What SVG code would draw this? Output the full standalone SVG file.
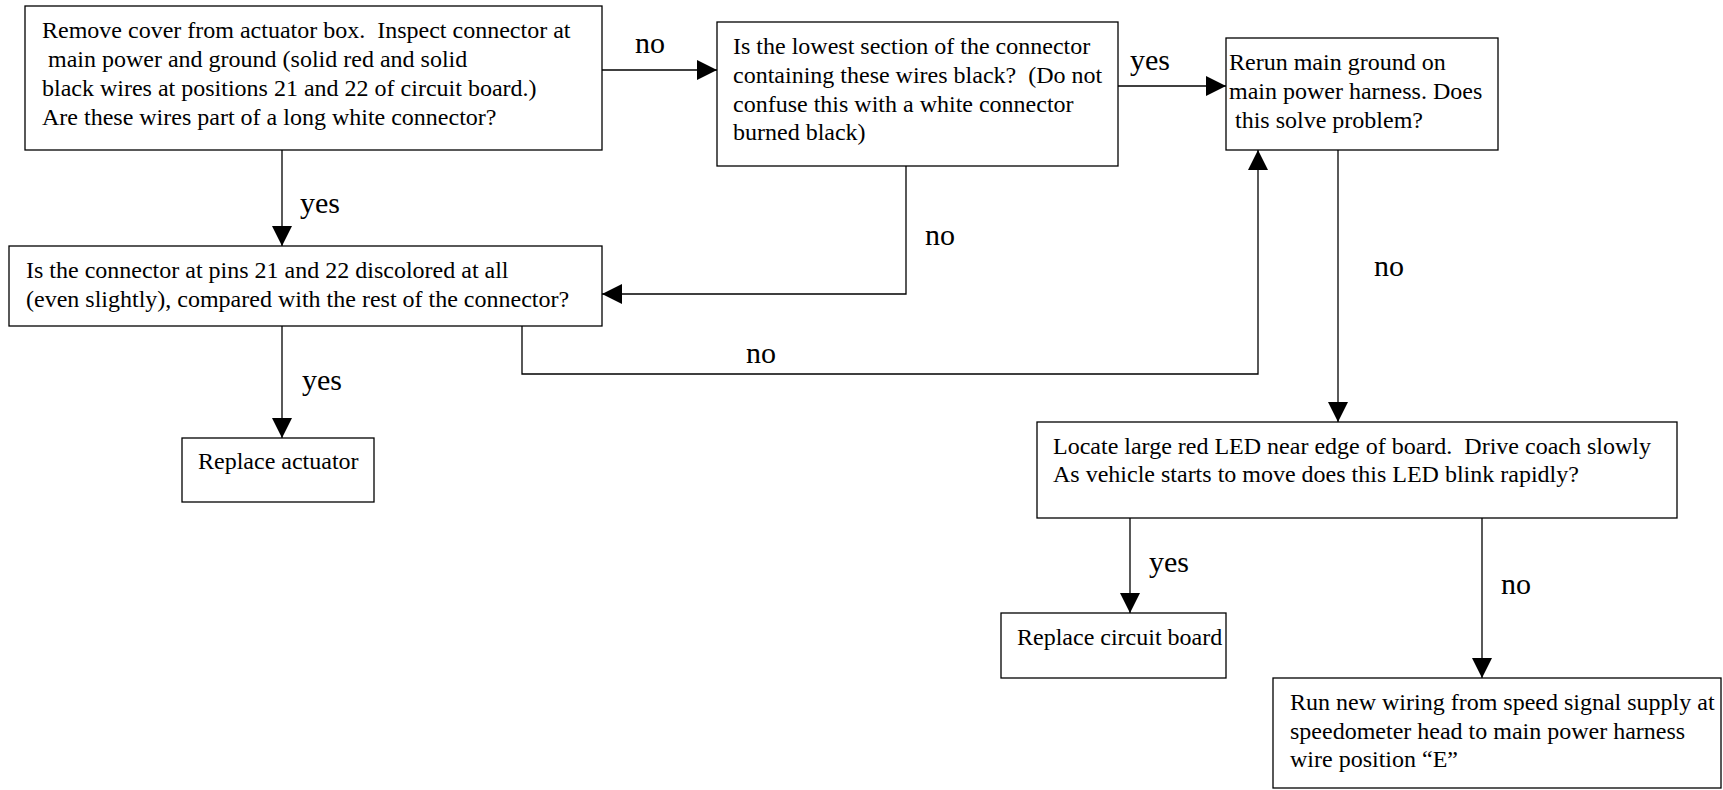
<svg xmlns="http://www.w3.org/2000/svg" width="1723" height="790" viewBox="0 0 1723 790">
<defs>
<marker id="ah" markerWidth="20" markerHeight="20" refX="20" refY="10" orient="auto" markerUnits="userSpaceOnUse">
<path d="M0,0 L20,10 L0,20 Z" fill="#000"/>
</marker>
<style>
.box{fill:#fff;stroke:#000;stroke-width:1.3}
.t{font-family:"Liberation Serif","Times New Roman",serif;font-size:24px;fill:#000;white-space:pre}
.lbl{font-family:"Liberation Serif","Times New Roman",serif;font-size:30px;fill:#000}
.c{fill:none;stroke:#000;stroke-width:1.3}
</style>
</defs>
<g id="connectors">
<path class="c" d="M602,70 L717,70" marker-end="url(#ah)"/>
<text class="lbl" x="635" y="53">no</text>
<path class="c" d="M1112,86 L1226,86" marker-end="url(#ah)"/>
<text class="lbl" x="1130" y="70">yes</text>
<path class="c" d="M282,150 L282,246" marker-end="url(#ah)"/>
<text class="lbl" x="300" y="213">yes</text>
<path class="c" d="M906,166 L906,294 L602,294" marker-end="url(#ah)"/>
<text class="lbl" x="925" y="245">no</text>
<path class="c" d="M522,326 L522,374 L1258,374 L1258,150" marker-end="url(#ah)"/>
<text class="lbl" x="746" y="363">no</text>
<path class="c" d="M282,326 L282,438" marker-end="url(#ah)"/>
<text class="lbl" x="302" y="390">yes</text>
<path class="c" d="M1338,150 L1338,422" marker-end="url(#ah)"/>
<text class="lbl" x="1374" y="276">no</text>
<path class="c" d="M1130,518 L1130,613" marker-end="url(#ah)"/>
<text class="lbl" x="1149" y="572">yes</text>
<path class="c" d="M1482,518 L1482,678" marker-end="url(#ah)"/>
<text class="lbl" x="1501" y="594">no</text>
</g>
<g id="n1">
<rect class="box" x="25" y="6" width="577" height="144"/>
<text class="t" x="42" y="38" xml:space="preserve">Remove cover from actuator box.  Inspect connector at</text>
<text class="t" x="42" y="67" xml:space="preserve"> main power and ground (solid red and solid</text>
<text class="t" x="42" y="96">black wires at positions 21 and 22 of circuit board.)</text>
<text class="t" x="42" y="125">Are these wires part of a long white connector?</text>
</g>
<g id="n2">
<rect class="box" x="717" y="22" width="401" height="144"/>
<text class="t" x="733" y="54">Is the lowest section of the connector</text>
<text class="t" x="733" y="83" xml:space="preserve">containing these wires black?  (Do not</text>
<text class="t" x="733" y="112">confuse this with a white connector</text>
<text class="t" x="733" y="140">burned black)</text>
</g>
<g id="n3">
<rect class="box" x="1226" y="38" width="272" height="112"/>
<text class="t" x="1229" y="70">Rerun main ground on</text>
<text class="t" x="1229" y="99">main power harness. Does</text>
<text class="t" x="1229" y="128" xml:space="preserve"> this solve problem?</text>
</g>
<g id="n4">
<rect class="box" x="9" y="246" width="593" height="80"/>
<text class="t" x="26" y="278">Is the connector at pins 21 and 22 discolored at all</text>
<text class="t" x="26" y="307">(even slightly), compared with the rest of the connector?</text>
</g>
<g id="n5">
<rect class="box" x="182" y="438" width="192" height="64"/>
<text class="t" x="198" y="469">Replace actuator</text>
</g>
<g id="n6">
<rect class="box" x="1037" y="422" width="640" height="96"/>
<text class="t" x="1053" y="454" xml:space="preserve">Locate large red LED near edge of board.  Drive coach slowly</text>
<text class="t" x="1053" y="482">As vehicle starts to move does this LED blink rapidly?</text>
</g>
<g id="n7">
<rect class="box" x="1001" y="613" width="225" height="65"/>
<text class="t" x="1017" y="645">Replace circuit board</text>
</g>
<g id="n8">
<rect class="box" x="1273" y="678" width="448" height="110"/>
<text class="t" x="1290" y="710">Run new wiring from speed signal supply at</text>
<text class="t" x="1290" y="739">speedometer head to main power harness</text>
<text class="t" x="1290" y="767">wire position “E”</text>
</g>
</svg>
